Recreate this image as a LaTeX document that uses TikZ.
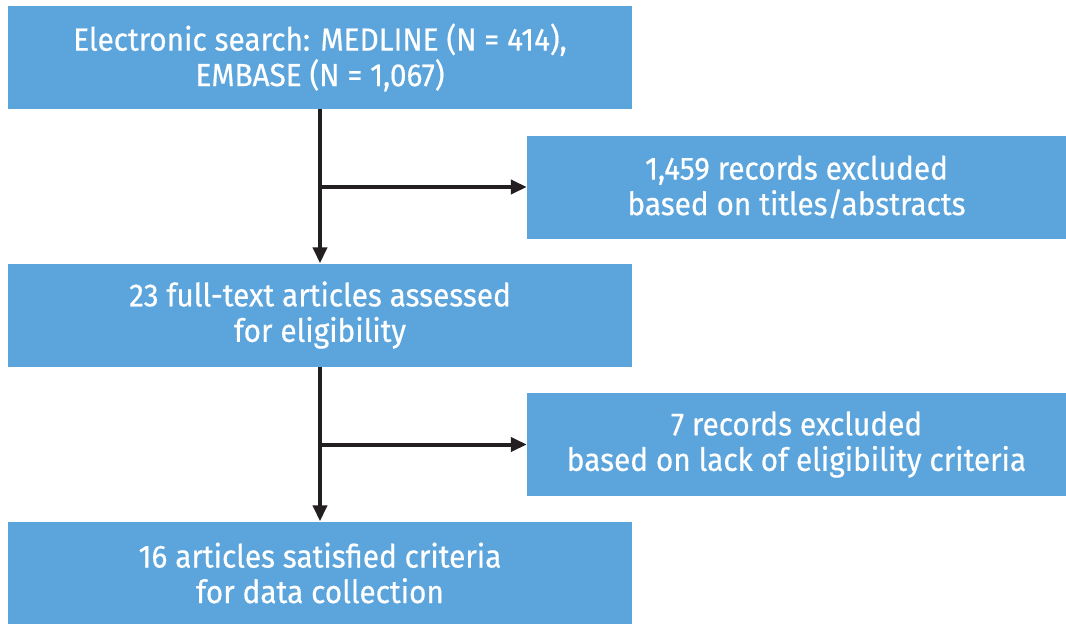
\documentclass[tikz,border=0pt]{standalone}
\usepackage{fontspec}
\setmainfont[FakeStretch=0.93,FakeBold=0.5]{Fira Sans}
\usetikzlibrary{arrows.meta}
\definecolor{boxblue}{HTML}{5BA5DC}
\definecolor{arrowdark}{HTML}{231F20}
\begin{document}
\begin{tikzpicture}[x=1pt,y=-1pt,
  flowbox/.style={fill=boxblue,draw=none,text=white,align=center,inner sep=0pt,
    font=\fontsize{32}{35.5}\selectfont},
  leftbox/.style={flowbox,minimum width=624pt,minimum height=103pt},
  rightbox/.style={flowbox,minimum width=539pt,minimum height=103pt},
  conn/.style={draw=arrowdark,line width=4pt},
  arr/.style={conn,-{Triangle[length=16pt,width=14pt]}}]
\useasboundingbox (0,0) rectangle (1066,624);
\node[leftbox] (b1) at (320,57.5) {Electronic search: MEDLINE (N = 414),\\EMBASE (N = 1,067)};
\node[rightbox] (b2) at (796.5,187) {1,459 records excluded\\based on titles/abstracts};
\node[leftbox] (b3) at (320,315) {23 full-text articles assessed\\for eligibility};
\node[rightbox] (b4) at (796.5,444.5) {7 records excluded\\based on lack of eligibility criteria};
\node[leftbox] (b5) at (320,573) {16 articles satisfied criteria\\for data collection};
\coordinate (j1) at (b1.south |- b2.west);
\coordinate (j2) at (b3.south |- b4.west);
\draw[arr] (b1.south) -- (b3.north);
\draw[arr] (j1) -- (b2.west);
\draw[arr] (b3.south) -- (b5.north);
\draw[arr] (j2) -- (b4.west);
\end{tikzpicture}
\end{document}
